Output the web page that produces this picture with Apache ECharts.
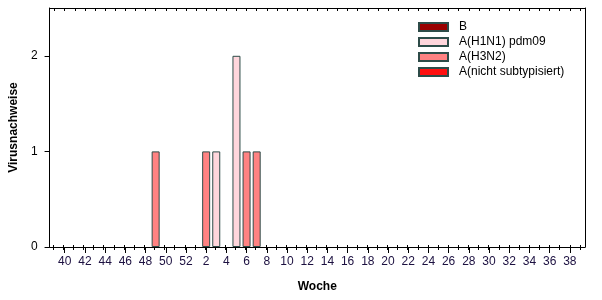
<!DOCTYPE html>
<html>
<head>
<meta charset="utf-8">
<script src="https://cdn.jsdelivr.net/npm/echarts@6/dist/echarts.min.js"></script>
<style>
html,body{margin:0;padding:0;background:#fff;}
#chart{width:602px;height:300px;}
</style>
</head>
<body>
<div id="chart"></div>
<script>
// Calendar weeks (season 39 .. 52, 1 .. 39)
var weeks = ['39','40','41','42','43','44','45','46','47','48','49','50','51','52',
  '1','2','3','4','5','6','7','8','9','10','11','12','13','14','15','16','17','18','19','20',
  '21','22','23','24','25','26','27','28','29','30','31','32','33','34','35','36','37','38','39'];

var seriesNames = ['B', 'A(H1N1) pdm09', 'A(H3N2)', 'A(nicht subtypisiert)'];

//            39 40 41 42 43 44 45 46 47 48 49 50 51 52  1  2  3  4  5  6  7  8  9 10 11 12 13 14 15 16 17 18 19 20 21 22 23 24 25 26 27 28 29 30 31 32 33 34 35 36 37 38 39
var valB    = [0, 0, 0, 0, 0, 0, 0, 0, 0, 0, 0, 0, 0, 0, 0, 0, 0, 0, 0, 0, 0, 0, 0, 0, 0, 0, 0, 0, 0, 0, 0, 0, 0, 0, 0, 0, 0, 0, 0, 0, 0, 0, 0, 0, 0, 0, 0, 0, 0, 0, 0, 0, 0];
var valH1N1 = [0, 0, 0, 0, 0, 0, 0, 0, 0, 0, 0, 0, 0, 0, 0, 0, 1, 0, 2, 0, 0, 0, 0, 0, 0, 0, 0, 0, 0, 0, 0, 0, 0, 0, 0, 0, 0, 0, 0, 0, 0, 0, 0, 0, 0, 0, 0, 0, 0, 0, 0, 0, 0];
var valH3N2 = [0, 0, 0, 0, 0, 0, 0, 0, 0, 0, 1, 0, 0, 0, 0, 1, 0, 0, 0, 1, 1, 0, 0, 0, 0, 0, 0, 0, 0, 0, 0, 0, 0, 0, 0, 0, 0, 0, 0, 0, 0, 0, 0, 0, 0, 0, 0, 0, 0, 0, 0, 0, 0];
var valNS   = [0, 0, 0, 0, 0, 0, 0, 0, 0, 0, 0, 0, 0, 0, 0, 0, 0, 0, 0, 0, 0, 0, 0, 0, 0, 0, 0, 0, 0, 0, 0, 0, 0, 0, 0, 0, 0, 0, 0, 0, 0, 0, 0, 0, 0, 0, 0, 0, 0, 0, 0, 0, 0];

var yTickValues = [0, 1, 2];

var colors = ['#990000', '#ffd6dc', '#ff8282', '#ff1010'];
var FONT = 'Liberation Sans, Arial, sans-serif';

function clean(arr) { return arr.map(function (v) { return v === 0 ? null : v; }); }
var seriesData = [valB, valH1N1, valH3N2, valNS];

var evenWeek = function (idx, val) { return (+weeks[idx]) % 2 === 0; };

var rect = { left: 48, top: 8, width: 537, height: 239 };

var chart = echarts.init(document.getElementById('chart'), null, { renderer: 'canvas' });
chart.setOption({
  backgroundColor: '#ffffff',
  animation: false,
  textStyle: { fontFamily: FONT },
  grid: [
    { left: rect.left, top: rect.top, width: rect.width, height: rect.height, containLabel: false },
    { left: rect.left, top: rect.top, width: rect.width, height: rect.height, containLabel: false }
  ],
  legend: {
    orient: 'vertical',
    left: 413,
    top: 16,
    itemWidth: 29,
    itemHeight: 8,
    itemGap: 3,
    icon: 'rect',
    data: seriesNames,
    textStyle: { fontFamily: FONT, fontSize: 12, lineHeight: 12, color: '#000', padding: [0, 0, 0, 6] }
  },
  xAxis: [
    {
      type: 'category', gridIndex: 0, position: 'bottom', data: weeks, boundaryGap: true,
      axisLine: { show: true, onZero: false, lineStyle: { color: '#000', width: 1 } },
      axisTick: { show: true, alignWithLabel: true, interval: evenWeek, length: 6, lineStyle: { color: '#000' } },
      axisLabel: { interval: evenWeek, margin: 9, fontSize: 12, color: '#1c1040', fontFamily: FONT },
      splitLine: { show: false },
      name: 'Woche', nameLocation: 'middle', nameGap: 34,
      nameTextStyle: { fontSize: 12, fontWeight: 'bold', color: '#000', fontFamily: FONT }
    },
    {
      type: 'category', gridIndex: 0, position: 'top', data: weeks, boundaryGap: true,
      axisLine: { show: true, onZero: false, lineStyle: { color: '#000', width: 1 } },
      axisTick: { show: true, alignWithLabel: true, interval: 0, inside: true, length: 3, lineStyle: { color: '#000' } },
      axisLabel: { show: false },
      splitLine: { show: false }
    },
    {
      type: 'category', gridIndex: 1, position: 'bottom', offset: -2, data: weeks, boundaryGap: true,
      axisLine: { show: false, onZero: false },
      axisTick: { show: true, alignWithLabel: true, interval: 0, length: 5, lineStyle: { color: '#000' } },
      axisLabel: { show: false },
      splitLine: { show: false }
    }
  ],
  yAxis: [
    {
      type: 'value', gridIndex: 0, position: 'left', min: 0, max: 2.5, interval: 1,
      axisLine: { show: true, onZero: false, lineStyle: { color: '#000', width: 1 } },
      axisTick: { show: true, length: 5, customValues: yTickValues, lineStyle: { color: '#000' } },
      axisLabel: { margin: 12, fontSize: 12, color: '#000', fontFamily: FONT, customValues: yTickValues },
      splitLine: { show: false },
      name: 'Virusnachweise', nameLocation: 'middle', nameGap: 25, nameRotate: 90,
      nameTextStyle: { fontSize: 12, fontWeight: 'bold', color: '#000', fontFamily: FONT }
    },
    {
      type: 'value', gridIndex: 0, position: 'right', min: 0, max: 2.5, interval: 1,
      axisLine: { show: true, onZero: false, lineStyle: { color: '#000', width: 1 } },
      axisTick: { show: false }, axisLabel: { show: false }, splitLine: { show: false }
    },
    {
      type: 'value', gridIndex: 1, min: 0, max: 2.5, show: false
    }
  ],
  series: seriesNames.map(function (name, i) {
    return {
      name: name,
      type: 'bar',
      stack: 'total',
      xAxisIndex: 0,
      yAxisIndex: 0,
      barWidth: 8,
      data: clean(seriesData[i]),
      itemStyle: { color: colors[i], borderColor: '#2d4b48', borderWidth: 1 },
      z: 3
    };
  })
});
</script>
</body>
</html>
